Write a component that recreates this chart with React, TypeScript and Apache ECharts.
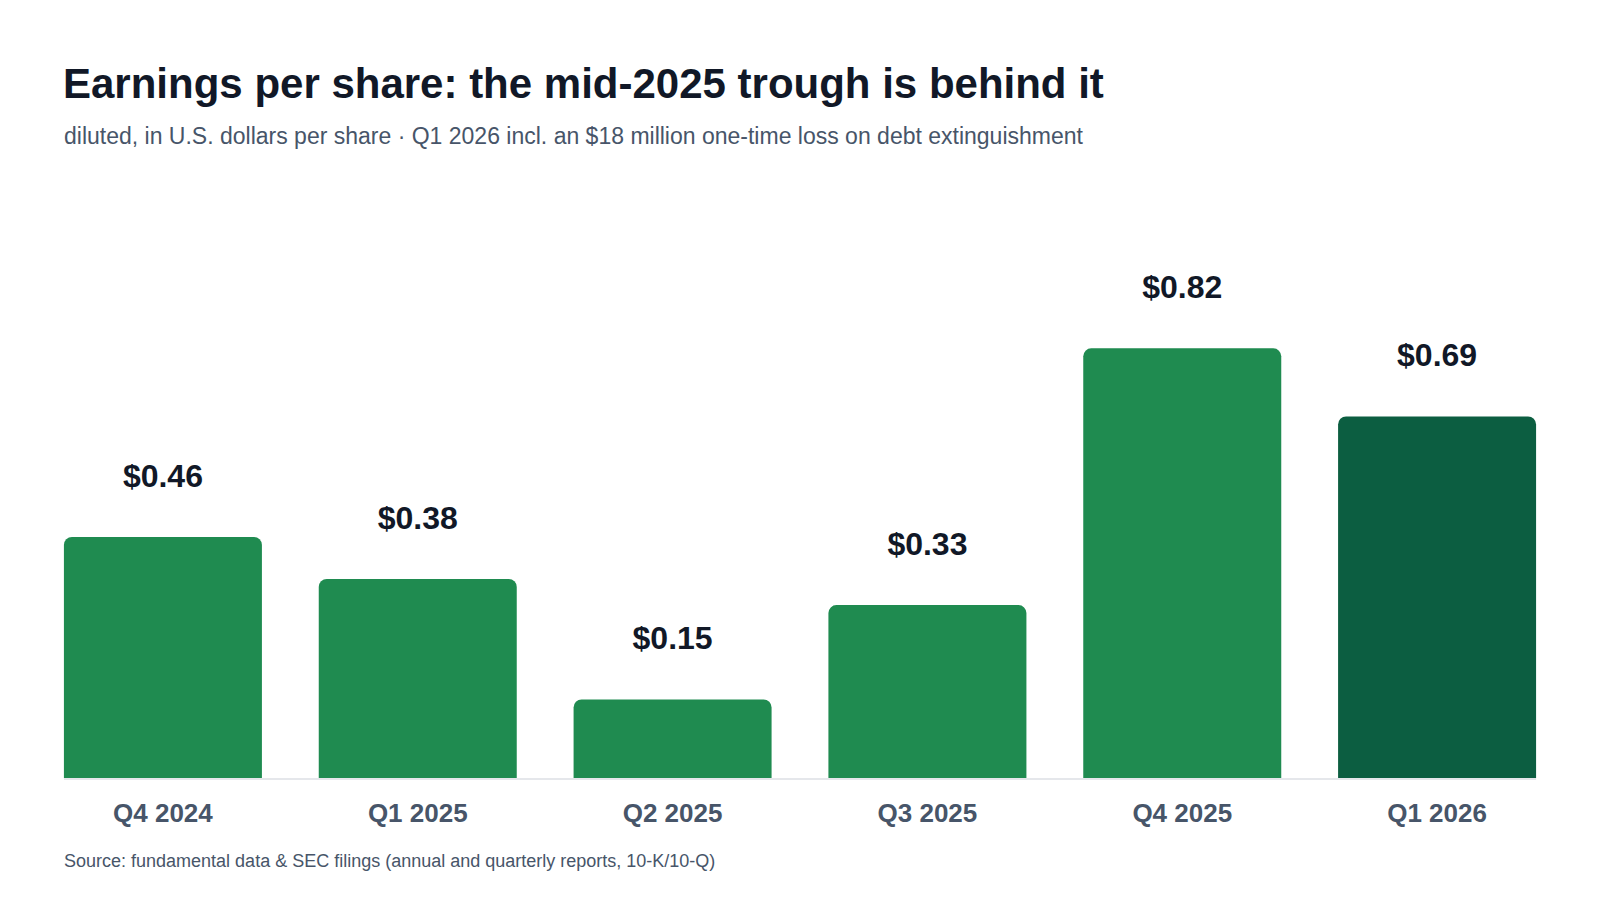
import React, { useEffect, useRef } from "react";
import * as echarts from "echarts";

const categories = ["Q4 2024", "Q1 2025", "Q2 2025", "Q3 2025", "Q4 2025", "Q1 2026"];
const epsValues = [0.46, 0.38, 0.15, 0.33, 0.82, 0.69];
const highlightIndex = 5;

const titleText = "Earnings per share: the mid-2025 trough is behind it";
const subtitleText =
  "diluted, in U.S. dollars per share · Q1 2026 incl. an $18 million one-time loss on debt extinguishment";
const sourceText = "Source: fundamental data & SEC filings (annual and quarterly reports, 10-K/10-Q)";

const FONT = "'Liberation Sans', Arial, Helvetica, sans-serif";
const BAR_COLOR = "#1f8b50";
const BAR_HIGHLIGHT = "#0c5e41";
const BAR_WIDTH = 198;

export default function App() {
  const ref = useRef<HTMLDivElement>(null);

  useEffect(() => {
    if (!ref.current) return;
    const chart = echarts.init(ref.current, null, { renderer: "svg" });
    chart.setOption({
      animation: false,
      backgroundColor: "#ffffff",
      textStyle: { fontFamily: FONT },
      title: [
        {
          text: titleText,
          left: 63,
          top: 62,
          padding: 0,
          textStyle: { fontFamily: FONT, fontSize: 42, fontWeight: "bold", color: "#111827" },
        },
        {
          text: subtitleText,
          left: 64,
          top: 124,
          padding: 0,
          textStyle: { fontFamily: FONT, fontSize: 23, fontWeight: "normal", color: "#475569" },
        },
        {
          text: sourceText,
          left: 64,
          top: 852,
          padding: 0,
          textStyle: { fontFamily: FONT, fontSize: 18, fontWeight: "normal", color: "#475569" },
        },
      ],
      grid: { left: 35.5, right: 35.5, top: 254, bottom: 122, containLabel: false },
      xAxis: {
        type: "category",
        data: categories,
        axisLine: { show: false },
        axisTick: { show: false },
        axisLabel: {
          margin: 22,
          fontFamily: FONT,
          fontSize: 26,
          fontWeight: "bold",
          color: "#475569",
        },
      },
      yAxis: {
        type: "value",
        min: 0,
        max: 1,
        show: false,
        splitLine: { show: false },
      },
      series: [
        {
          type: "bar",
          barWidth: BAR_WIDTH,
          data: epsValues.map((v, i) => ({
            value: v,
            itemStyle: { color: i === highlightIndex ? BAR_HIGHLIGHT : BAR_COLOR },
          })),
          itemStyle: { borderRadius: [8, 8, 0, 0] },
          label: {
            show: true,
            position: "top",
            distance: 45,
            fontFamily: FONT,
            fontSize: 32,
            fontWeight: "bold",
            color: "#111827",
            formatter: (p: any) => "$" + Number(p.value).toFixed(2),
          },
        },
      ],
    });

    // baseline spanning from the first bar's left edge to the last bar's right edge
    const first = chart.convertToPixel({ gridIndex: 0 }, [0, 0]) as number[];
    const last = chart.convertToPixel({ gridIndex: 0 }, [categories.length - 1, 0]) as number[];
    if (first && last) {
      chart.setOption({
        graphic: [
          {
            type: "rect",
            shape: {
              x: first[0] - BAR_WIDTH / 2,
              y: first[1],
              width: last[0] - first[0] + BAR_WIDTH,
              height: 2,
            },
            style: { fill: "#e5e7eb" },
            z: 10,
          },
        ],
      });
    }

    return () => chart.dispose();
  }, []);

  return (
    <div
      ref={ref}
      style={{ position: "fixed", left: 0, top: 0, width: 1600, height: 900, background: "#fff" }}
    />
  );
}
